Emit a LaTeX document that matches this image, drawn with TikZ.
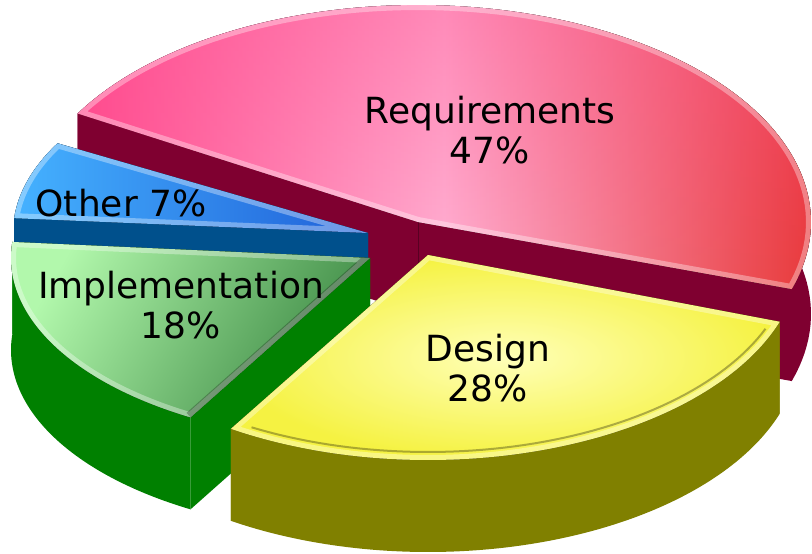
\documentclass[tikz,border=0pt]{standalone}
\usepackage{fontspec}
\setmainfont{DejaVu Sans}
\usetikzlibrary{fadings}
\definecolor{reqside}{HTML}{7F0030}
\definecolor{reqA}{HTML}{FF4B8E}
\definecolor{reqB}{HTML}{FFB3D4}
\definecolor{reqC}{HTML}{E83A3A}
\definecolor{blueside}{HTML}{00508C}
\definecolor{blueA}{HTML}{45B2FF}
\definecolor{blueB}{HTML}{1F5FD8}
\definecolor{greenside}{HTML}{008000}
\definecolor{greenA}{HTML}{B2F8AC}
\definecolor{greenB}{HTML}{3E8A45}
\definecolor{yelside}{HTML}{808000}
\definecolor{yelA}{HTML}{FFFFB8}
\definecolor{yelB}{HTML}{F5F242}
% top face path: cx, cy, a, b, t1, t2
\newcommand{\toppath}[6]{plot[domain=#5:#6,samples=90,variable=\t] ({#1+#3*cos(\t)},{#2+#4*sin(\t)}) -- (#1,#2) -- cycle}
% body (sides): cx, cy, a, b, t1, t2, h, colour
\newcommand{\slicebody}[8]{%
  \fill[#8] plot[domain=#5:#6,samples=90,variable=\t] ({#1+#3*cos(\t)},{#2+#4*sin(\t)})
     -- plot[domain=#6:#5,samples=90,variable=\t] ({#1+#3*cos(\t)},{#2+#7+#4*sin(\t)}) -- cycle;
  \fill[#8] (#1,#2) -- ({#1+#3*cos(#5)},{#2+#4*sin(#5)}) -- ({#1+#3*cos(#5)},{#2+#7+#4*sin(#5)}) -- (#1,{#2+#7}) -- cycle;
  \fill[#8] (#1,#2) -- ({#1+#3*cos(#6)},{#2+#4*sin(#6)}) -- ({#1+#3*cos(#6)},{#2+#7+#4*sin(#6)}) -- (#1,{#2+#7}) -- cycle;
}
\tikzset{
  lbl/.style={font=\fontsize{36}{40}\selectfont, align=center, inner sep=0pt, text=black},
  bevel/.style={draw=white, draw opacity=0.35, line width=10pt, fill=none}
}
\begin{document}
\begin{tikzpicture}[x=1pt,y=-1pt]
\useasboundingbox (0,0) rectangle (812,554);
\fill[white] (0,0) rectangle (812,554);

% Requirements
\slicebody{418}{222}{393}{217}{210}{378}{92}{reqside}
\draw[black!30!reqside, line width=1pt] (418,222) -- (418,314);
\fill[left color=reqA, right color=reqC, middle color=reqB] \toppath{418}{222}{393}{217}{210}{378};
\fill[reqA, path fading=south, fill opacity=0.4] \toppath{418}{222}{393}{217}{210}{378};
\begin{scope}
  \clip \toppath{418}{222}{393}{217}{210}{378};
  \draw[bevel] \toppath{418}{222}{393}{217}{210}{378};
\end{scope}

% Other
\slicebody{368}{233}{355}{185}{184.6}{209}{92}{blueside}
\fill[left color=blueA, right color=blueB] \toppath{368}{233}{355}{185}{184.6}{209};
\begin{scope}
  \clip \toppath{368}{233}{355}{185}{184.6}{209};
  \draw[bevel] \toppath{368}{233}{355}{185}{184.6}{209};
\end{scope}

% Implementation
\slicebody{370}{258}{359}{184}{120}{185}{92}{greenside}
\fill[left color=greenA, right color=greenB, shading angle=60] \toppath{370}{258}{359}{184}{120}{185};
\begin{scope}
  \clip \toppath{370}{258}{359}{184}{120}{185};
  \draw[bevel] \toppath{370}{258}{359}{184}{120}{185};
  \draw[black, draw opacity=0.25, line width=12pt] (370,258) -- (190.5,417.3);
\end{scope}

% Design
\slicebody{428}{255}{372}{205}{19}{122}{92}{yelside}
\fill[inner color=yelA, outer color=yelB] \toppath{428}{255}{372}{205}{19}{122};
\begin{scope}
  \clip \toppath{428}{255}{372}{205}{19}{122};
  \draw[bevel] \toppath{428}{255}{372}{205}{19}{122};
  \draw[black, draw opacity=0.3, line width=2pt] plot[domain=22:119,samples=60,variable=\t] ({428+364*cos(\t)},{255+197*sin(\t)});
\end{scope}

% labels
\node[lbl] (lreq) at (490,130) {Requirements\\47\%};
\node[lbl] (loth) at (121,203) {Other 7\%};
\node[lbl] (limp) at (181,305) {Implementation\\18\%};
\node[lbl] (ldes) at (488,368) {Design\\28\%};
\end{tikzpicture}
\end{document}
